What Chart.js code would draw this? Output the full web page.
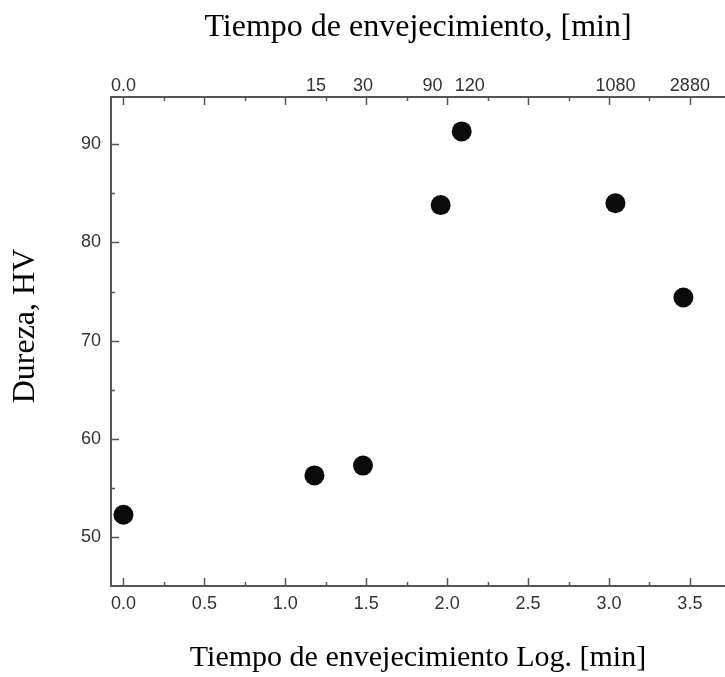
<!DOCTYPE html>
<html>
<head>
<meta charset="utf-8">
<script src="https://cdn.jsdelivr.net/npm/chart.js@4.4.0/dist/chart.umd.min.js"></script>
<style>
  html, body { margin: 0; padding: 0; background: #fff; }
</style>
</head>
<body>
<canvas id="grafica" width="725" height="677"></canvas>
<script>
// Datos: log10 del tiempo [min] y dureza HV
const tiempoLog = [0, 1.18, 1.48, 1.96, 2.09, 3.04, 3.46];
const dureza = [52.3, 56.3, 57.3, 83.8, 91.3, 84.0, 74.4];

// Marcas y etiquetas de los ejes
const ticksInferior = [0, 0.5, 1, 1.5, 2, 2.5, 3, 3.5];
const menoresX = [0.25, 0.75, 1.25, 1.75, 2.25, 2.75, 3.25];
const ticksSuperiorPos = [0, 1.19, 1.48, 1.91, 2.14, 3.04, 3.5];
const ticksSuperiorTxt = ['0.0', '15', '30', '90', '120', '1080', '2880'];
const ticksDureza = [50, 60, 70, 80, 90];
const menoresY = [55, 65, 75, 85];

const colorEje = '#555';
const colorTicks = '#333';
const fuenteTicks = { family: '"Liberation Sans", Arial, sans-serif', size: 18 };
const fuenteTitulo = { family: '"Liberation Serif", "Times New Roman", serif', size: 32 };

// Sin relleno lateral: el área del gráfico llega al borde derecho
const sinRelleno = s => { s.paddingLeft = 0; s.paddingRight = 0; };

// Marcas hacia dentro + título del eje vertical
const marcasInternas = {
  id: 'marcasInternas',
  afterDraw(chart) {
    const { ctx, chartArea: a, scales } = chart;
    ctx.save();
    ctx.strokeStyle = colorEje;
    ctx.lineWidth = 1.5;
    const linea = (x1, y1, x2, y2) => {
      ctx.beginPath();
      ctx.moveTo(x1, y1);
      ctx.lineTo(x2, y2);
      ctx.stroke();
    };
    const marcaX = (v, largo) => {
      const px = Math.round(scales.x.getPixelForValue(v)) + 0.5;
      linea(px, a.bottom, px, a.bottom - largo);
      linea(px, a.top, px, a.top + largo);
    };
    const marcaY = (v, largo) => {
      const py = Math.round(scales.y.getPixelForValue(v)) + 0.5;
      linea(a.left, py, a.left + largo, py);
    };
    ticksInferior.forEach(v => marcaX(v, 8));
    menoresX.forEach(v => marcaX(v, 4));
    ticksDureza.forEach(v => marcaY(v, 8));
    menoresY.forEach(v => marcaY(v, 4));

    // Título del eje Y
    ctx.translate(26, 326);
    ctx.rotate(-Math.PI / 2);
    ctx.font = '32px "Liberation Serif", "Times New Roman", serif';
    ctx.fillStyle = '#000';
    ctx.textAlign = 'center';
    ctx.textBaseline = 'middle';
    ctx.fillText('Dureza, HV', 0, 0);
    ctx.restore();
  }
};

const ctx = document.getElementById('grafica').getContext('2d');
const grafica = new Chart(ctx, {
  type: 'scatter',
  data: {
    datasets: [{
      data: tiempoLog.map((t, i) => ({ x: t, y: dureza[i] })),
      backgroundColor: '#0b0b0b',
      borderWidth: 0,
      pointRadius: 10,
      xAxisID: 'x',
      yAxisID: 'y'
    }]
  },
  options: {
    responsive: false,
    animation: false,
    layout: { padding: 0, autoPadding: false },
    plugins: {
      legend: { display: false },
      tooltip: { enabled: false }
    },
    scales: {
      x: {
        type: 'linear',
        position: 'bottom',
        min: -0.077,
        max: 3.717,
        afterBuildTicks: s => { s.ticks = ticksInferior.map(v => ({ value: v })); },
        afterFit: s => { s.height = 91; sinRelleno(s); },
        grid: { display: false, drawTicks: false },
        border: { color: colorEje, width: 2 },
        ticks: {
          font: fuenteTicks,
          color: colorTicks,
          padding: 7,
          maxRotation: 0,
          callback: v => v.toFixed(1)
        },
        title: {
          display: true,
          text: 'Tiempo de envejecimiento Log. [min]',
          font: { family: fuenteTitulo.family, size: 30 },
          color: '#000',
          padding: { top: 0, bottom: 1 }
        }
      },
      x2: {
        type: 'linear',
        position: 'top',
        min: -0.077,
        max: 3.717,
        afterBuildTicks: s => { s.ticks = ticksSuperiorPos.map(v => ({ value: v })); },
        afterFit: s => { s.height = 97; sinRelleno(s); },
        grid: { display: false, drawTicks: false },
        border: { color: colorEje, width: 2 },
        ticks: {
          font: fuenteTicks,
          color: colorTicks,
          padding: 0,
          maxRotation: 0,
          autoSkip: false,
          callback: (v, i) => ticksSuperiorTxt[i]
        },
        title: {
          display: true,
          text: 'Tiempo de envejecimiento, [min]',
          font: fuenteTitulo,
          color: '#000',
          padding: { top: 8, bottom: 0 }
        }
      },
      y: {
        type: 'linear',
        position: 'left',
        min: 45.05,
        max: 94.8,
        afterBuildTicks: s => { s.ticks = ticksDureza.map(v => ({ value: v })); },
        afterFit: s => { s.width = 111; },
        grid: { display: false, drawTicks: false },
        border: { color: colorEje, width: 2 },
        ticks: {
          font: fuenteTicks,
          color: colorTicks,
          padding: 10
        }
      }
    }
  },
  plugins: [marcasInternas]
});
</script>
</body>
</html>
